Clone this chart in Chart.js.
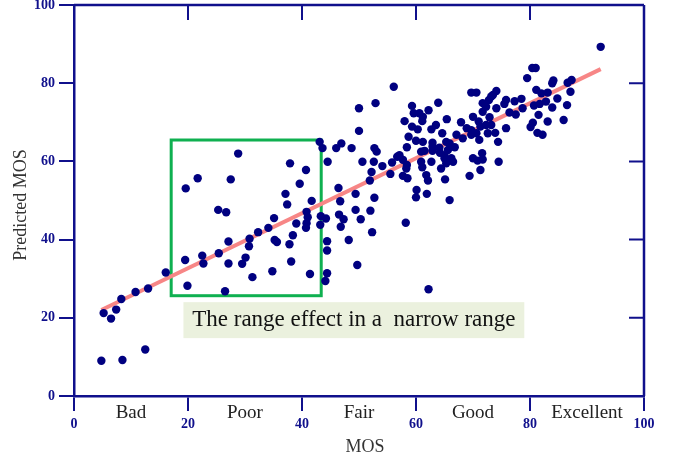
<!DOCTYPE html>
<html>
<head>
<meta charset="utf-8">
<script src="https://cdn.jsdelivr.net/npm/chart.js@4/dist/chart.umd.min.js"></script>
<style>
  body { margin: 0; background: #fff; }
</style>
</head>
<body>
<canvas id="mosgraf" width="680" height="460"></canvas>
<script>
// MOS (x) vs predicted MOS (y)
const mosValues = [
  5.2, 6.5, 7.4, 8.3, 10.8, 13.0, 16.1, 4.8, 8.5, 12.5,
  19.6, 21.7, 28.8, 27.5, 25.3, 26.7, 19.5, 19.9, 22.5, 22.7,
  25.4, 27.1, 27.1, 26.5, 29.5, 30.1, 30.8, 30.7, 31.3, 32.3,
  34.1, 35.1, 35.2, 35.6, 37.8, 38.4, 39.0, 38.1, 34.8, 37.1,
  37.4, 37.9, 39.6, 40.7, 41.7, 40.8, 41.0, 40.8, 40.7, 41.4,
  43.1, 43.6, 44.5, 43.3, 43.2, 44.2, 44.4, 44.4, 44.4, 44.1,
  50.0, 52.9, 50.0, 46.0, 46.9, 48.7, 52.7, 53.1, 50.6, 52.6,
  54.1, 52.2, 51.9, 55.5, 55.8, 56.7, 57.1, 57.7, 58.4, 57.7,
  58.5, 46.4, 46.7, 49.4, 52.7, 49.4, 50.3, 52.0, 46.5, 47.3,
  46.8, 48.2, 52.3, 49.7, 58.2, 60.1, 60.0, 59.3, 59.6, 58.0,
  59.3, 58.7, 60.0, 58.4, 56.1, 63.9, 60.6, 61.2, 62.2, 61.1,
  60.3, 62.7, 63.5, 65.4, 67.9, 69.7, 70.6, 71.7, 72.8, 73.5,
  71.7, 74.1, 70.0, 71.0, 72.9, 61.2, 62.9, 64.6, 67.1, 68.2,
  68.9, 69.7, 70.6, 71.1, 72.6, 74.4, 61.5, 62.9, 62.9, 65.3,
  65.9, 64.2, 65.0, 66.2, 66.5, 58.3, 60.9, 61.1, 62.7, 64.4,
  70.0, 70.8, 71.6, 71.7, 71.3, 74.5, 61.8, 62.1, 65.1, 69.4,
  61.9, 65.9, 62.2, 60.9, 64.1, 65.6, 66.8, 92.4, 80.4, 81.0,
  79.5, 84.1, 83.9, 86.6, 87.3, 87.1, 81.1, 82.0, 83.1, 84.8,
  86.5, 83.9, 81.5, 83.1, 85.9, 80.7, 81.7, 82.8, 78.5, 78.7,
  77.3, 76.4, 77.5, 75.8, 75.5, 74.1, 73.2, 72.3, 69.7, 71.3,
  72.3, 73.2, 73.9, 75.8, 65.0, 65.3, 80.1, 80.5, 81.3, 82.2
];
const predictedValues = [
  21.2, 19.8, 22.1, 24.8, 26.6, 27.5, 31.6, 9.0, 9.2, 11.9,
  53.1, 55.7, 62.0, 55.4, 47.6, 47.0, 34.8, 28.2, 35.9, 33.9,
  36.5, 39.5, 33.9, 26.8, 33.8, 35.4, 40.2, 38.3, 30.4, 41.9,
  43.0, 45.5, 39.9, 39.4, 38.8, 41.1, 44.1, 34.4, 31.9, 51.7,
  49.0, 59.5, 54.3, 57.8, 49.9, 47.1, 45.7, 44.2, 43.0, 31.2,
  65.0, 63.4, 59.9, 46.0, 43.8, 45.4, 39.6, 37.2, 31.4, 29.4,
  73.6, 74.9, 67.8, 63.4, 64.6, 63.4, 63.4, 62.5, 59.9, 59.9,
  58.8, 57.3, 55.1, 56.8, 59.7, 61.2, 61.6, 60.4, 59.1, 56.3,
  55.7, 53.2, 49.8, 51.7, 50.7, 47.6, 45.2, 47.4, 46.4, 45.2,
  43.3, 39.9, 41.9, 33.5, 44.3, 52.7, 50.8, 74.2, 72.3, 70.3,
  68.9, 66.3, 65.3, 63.6, 79.1, 75.0, 72.3, 71.4, 73.1, 70.3,
  68.2, 68.2, 69.3, 70.8, 70.0, 77.6, 77.6, 74.9, 75.7, 77.0,
  72.7, 73.6, 71.4, 70.2, 71.3, 65.0, 64.8, 67.2, 66.8, 65.9,
  68.5, 66.8, 67.2, 65.5, 67.2, 65.0, 62.7, 63.8, 62.7, 65.0,
  64.6, 62.2, 60.8, 60.8, 59.9, 58.2, 59.9, 58.5, 59.9, 58.2,
  60.8, 60.2, 62.1, 60.5, 57.8, 59.9, 56.5, 55.1, 55.4, 56.3,
  51.7, 50.1, 27.3, 62.5, 63.5, 62.9, 63.6, 89.3, 83.9, 83.9,
  81.3, 80.7, 80.0, 80.1, 80.8, 77.8, 78.3, 77.4, 77.6, 76.1,
  74.4, 73.8, 71.9, 70.2, 70.6, 74.3, 74.7, 75.3, 76.0, 73.6,
  75.4, 72.5, 72.0, 75.7, 74.7, 78.0, 76.6, 74.0, 68.0, 68.9,
  69.3, 69.3, 67.3, 68.5, 61.5, 59.5, 68.8, 69.9, 67.3, 66.8
];

// regression line ends
const fitX = [4.8, 92.4];
const fitY = [22.0, 83.6];

// axis ticks and quality bands
const tickValues = [0, 20, 40, 60, 80, 100];
const qualityLabels = ['Bad', 'Poor', 'Fair', 'Good', 'Excellent'];
const qualityCenters = [10, 30, 50, 70, 90];

// annotated region (data units) and its caption
const boxX = [17.05, 43.37];
const boxY = [25.65, 65.47];
const caption = 'The range effect in a  narrow range';
const captionX = [19.2, 79.0];
const captionY = [14.8, 24.0];

const navy = '#10108c';
const serif = '"Liberation Serif", "DejaVu Serif", serif';

const puntos = mosValues.map((v, i) => ({ x: v, y: predictedValues[i] }));
const recta = fitX.map((v, i) => ({ x: v, y: fitY[i] }));

const decoraciones = {
  id: 'decoraciones',
  beforeDatasetsDraw(chart) {
    const ctx = chart.ctx;
    const xs = chart.scales.x, ys = chart.scales.y;
    // green rectangle
    ctx.save();
    ctx.strokeStyle = '#0fb050';
    ctx.lineWidth = 3;
    const x1 = xs.getPixelForValue(boxX[0]), x2 = xs.getPixelForValue(boxX[1]);
    const y1 = ys.getPixelForValue(boxY[1]), y2 = ys.getPixelForValue(boxY[0]);
    ctx.strokeRect(x1, y1, x2 - x1, y2 - y1);
    ctx.restore();
  },
  afterDatasetsDraw(chart) {
    const ctx = chart.ctx;
    const a = chart.chartArea;
    const xs = chart.scales.x, ys = chart.scales.y;
    ctx.save();
    // caption box
    const cx1 = xs.getPixelForValue(captionX[0]), cx2 = xs.getPixelForValue(captionX[1]);
    const cy1 = ys.getPixelForValue(captionY[1]), cy2 = ys.getPixelForValue(captionY[0]);
    ctx.fillStyle = '#ebf1de';
    ctx.fillRect(cx1, cy1, cx2 - cx1, cy2 - cy1);
    ctx.fillStyle = '#111';
    ctx.font = '23px ' + serif;
    ctx.textAlign = 'center';
    ctx.textBaseline = 'middle';
    ctx.fillText(caption, (cx1 + cx2) / 2, (cy1 + cy2) / 2);

    // top and right frame with inward ticks
    ctx.strokeStyle = navy;
    ctx.lineWidth = 2.5;
    ctx.beginPath();
    ctx.moveTo(a.left, a.top);
    ctx.lineTo(a.right, a.top);
    ctx.moveTo(a.right, a.top);
    ctx.lineTo(a.right, a.bottom);
    ctx.stroke();
    ctx.lineWidth = 2;
    ctx.beginPath();
    tickValues.slice(1, -1).forEach(v => {
      const px = xs.getPixelForValue(v);
      ctx.moveTo(px, a.top);
      ctx.lineTo(px, a.top + 15);
      const py = ys.getPixelForValue(v);
      ctx.moveTo(a.right, py);
      ctx.lineTo(a.right - 15, py);
    });
    ctx.stroke();

    // quality band labels
    ctx.fillStyle = '#222';
    ctx.font = '19px ' + serif;
    ctx.textBaseline = 'middle';
    qualityLabels.forEach((t, i) => {
      ctx.fillText(t, xs.getPixelForValue(qualityCenters[i]), a.bottom + 17);
    });

    // axis titles
    ctx.font = '18px ' + serif;
    ctx.fillStyle = '#333';
    ctx.fillText('MOS', 365, 447);
    ctx.translate(21, 205);
    ctx.rotate(-Math.PI / 2);
    ctx.fillText('Predicted MOS', 0, 0);
    ctx.restore();
  }
};

new Chart('mosgraf', {
  type: 'scatter',
  data: {
    datasets: [{
      label: 'MOS',
      data: puntos,
      backgroundColor: '#000080',
      borderWidth: 0,
      pointRadius: 4.2,
      order: 1
    }, {
      type: 'line',
      label: 'Ajuste',
      data: recta,
      borderColor: '#f78686',
      borderWidth: 4,
      pointRadius: 0,
      order: 2
    }]
  },
  options: {
    responsive: false,
    animation: false,
    events: [],
    layout: { padding: { top: 5, right: 36, left: 0, bottom: 0 } },
    plugins: { legend: { display: false }, tooltip: { enabled: false } },
    scales: {
      x: {
        type: 'linear',
        min: 0, max: 100,
        afterFit: s => { s.height = 64; s.paddingLeft = 0; s.paddingRight = 0; },
        afterBuildTicks: s => { s.ticks = tickValues.map(v => ({ value: v })); },
        ticks: { color: navy, font: { family: serif, size: 14, weight: 'bold' }, padding: 5, maxRotation: 0 },
        grid: { drawOnChartArea: false, tickLength: 15, color: navy, lineWidth: 2 },
        border: { color: navy, width: 2.5 }
      },
      y: {
        min: 0, max: 100,
        afterFit: s => { s.width = 74; s.paddingTop = 0; s.paddingBottom = 0; },
        afterBuildTicks: s => { s.ticks = tickValues.map(v => ({ value: v })); },
        ticks: { color: navy, font: { family: serif, size: 14, weight: 'bold' }, padding: 4 },
        grid: { drawOnChartArea: false, tickLength: 15, color: navy, lineWidth: 2 },
        border: { color: navy, width: 2.5 }
      }
    }
  },
  plugins: [decoraciones]
});
</script>
</body>
</html>
